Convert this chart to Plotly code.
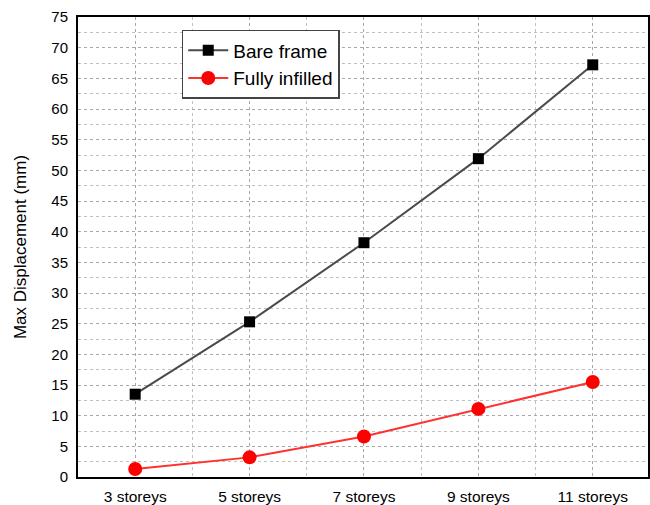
import plotly.graph_objects as go

categories = ["3 storeys", "5 storeys", "7 storeys", "9 storeys", "11 storeys"]
bare_frame = [13.5, 25.3, 38.2, 51.9, 67.2]
fully_infilled = [1.3, 3.2, 6.6, 11.1, 15.5]
y_ticks = list(range(0, 80, 5))

xpos = list(range(len(categories)))

fig = go.Figure()
fig.add_trace(go.Scatter(
    x=xpos, y=bare_frame, name="Bare frame", mode="lines+markers",
    line=dict(color="#4a4a4a", width=2),
    marker=dict(symbol="square", size=11, color="#000000"),
))
fig.add_trace(go.Scatter(
    x=xpos, y=fully_infilled, name="Fully infilled", mode="lines+markers",
    line=dict(color="#ff3030", width=2),
    marker=dict(symbol="circle", size=14, color="#ff0000"),
))

font = "Liberation Sans, Arial, sans-serif"
fig.update_layout(
    width=650, height=505,
    margin=dict(l=78, r=0, t=17, b=27),
    paper_bgcolor="white", plot_bgcolor="white",
    font=dict(family=font, color="#000000"),
    showlegend=True,
    legend=dict(
        x=0.182, y=0.972, xanchor="left", yanchor="top",
        bgcolor="white", bordercolor="#444444", borderwidth=1.5,
        font=dict(size=19, family=font), tracegroupgap=0,
        itemwidth=40,
    ),
    xaxis=dict(
        range=[-0.5, 4.483],
        tickvals=xpos, ticktext=categories,
        tickfont=dict(size=15.5),
        ticklabelstandoff=4,
        showgrid=True, gridcolor="#a8a8a8", griddash="dot", gridwidth=1,
        minor=dict(tickvals=[i + 0.5 for i in xpos], showgrid=True,
                   gridcolor="#c0c0c0", griddash="dot", gridwidth=1),
        showline=True, linecolor="#000000", linewidth=2, mirror=True,
        ticks="", zeroline=False,
    ),
    yaxis=dict(
        range=[0, 75], tickvals=y_ticks,
        tickfont=dict(size=15),
        ticklabelstandoff=5,
        title=dict(text="Max Displacement (mm)", font=dict(size=17), standoff=20),
        showgrid=True, gridcolor="#a8a8a8", griddash="dot", gridwidth=1,
        minor=dict(dtick=2.5, tick0=0, showgrid=True,
                   gridcolor="#c0c0c0", griddash="dot", gridwidth=1),
        showline=True, linecolor="#000000", linewidth=2, mirror=True,
        ticks="", zeroline=False,
    ),
)

fig.write_html("out.html")
